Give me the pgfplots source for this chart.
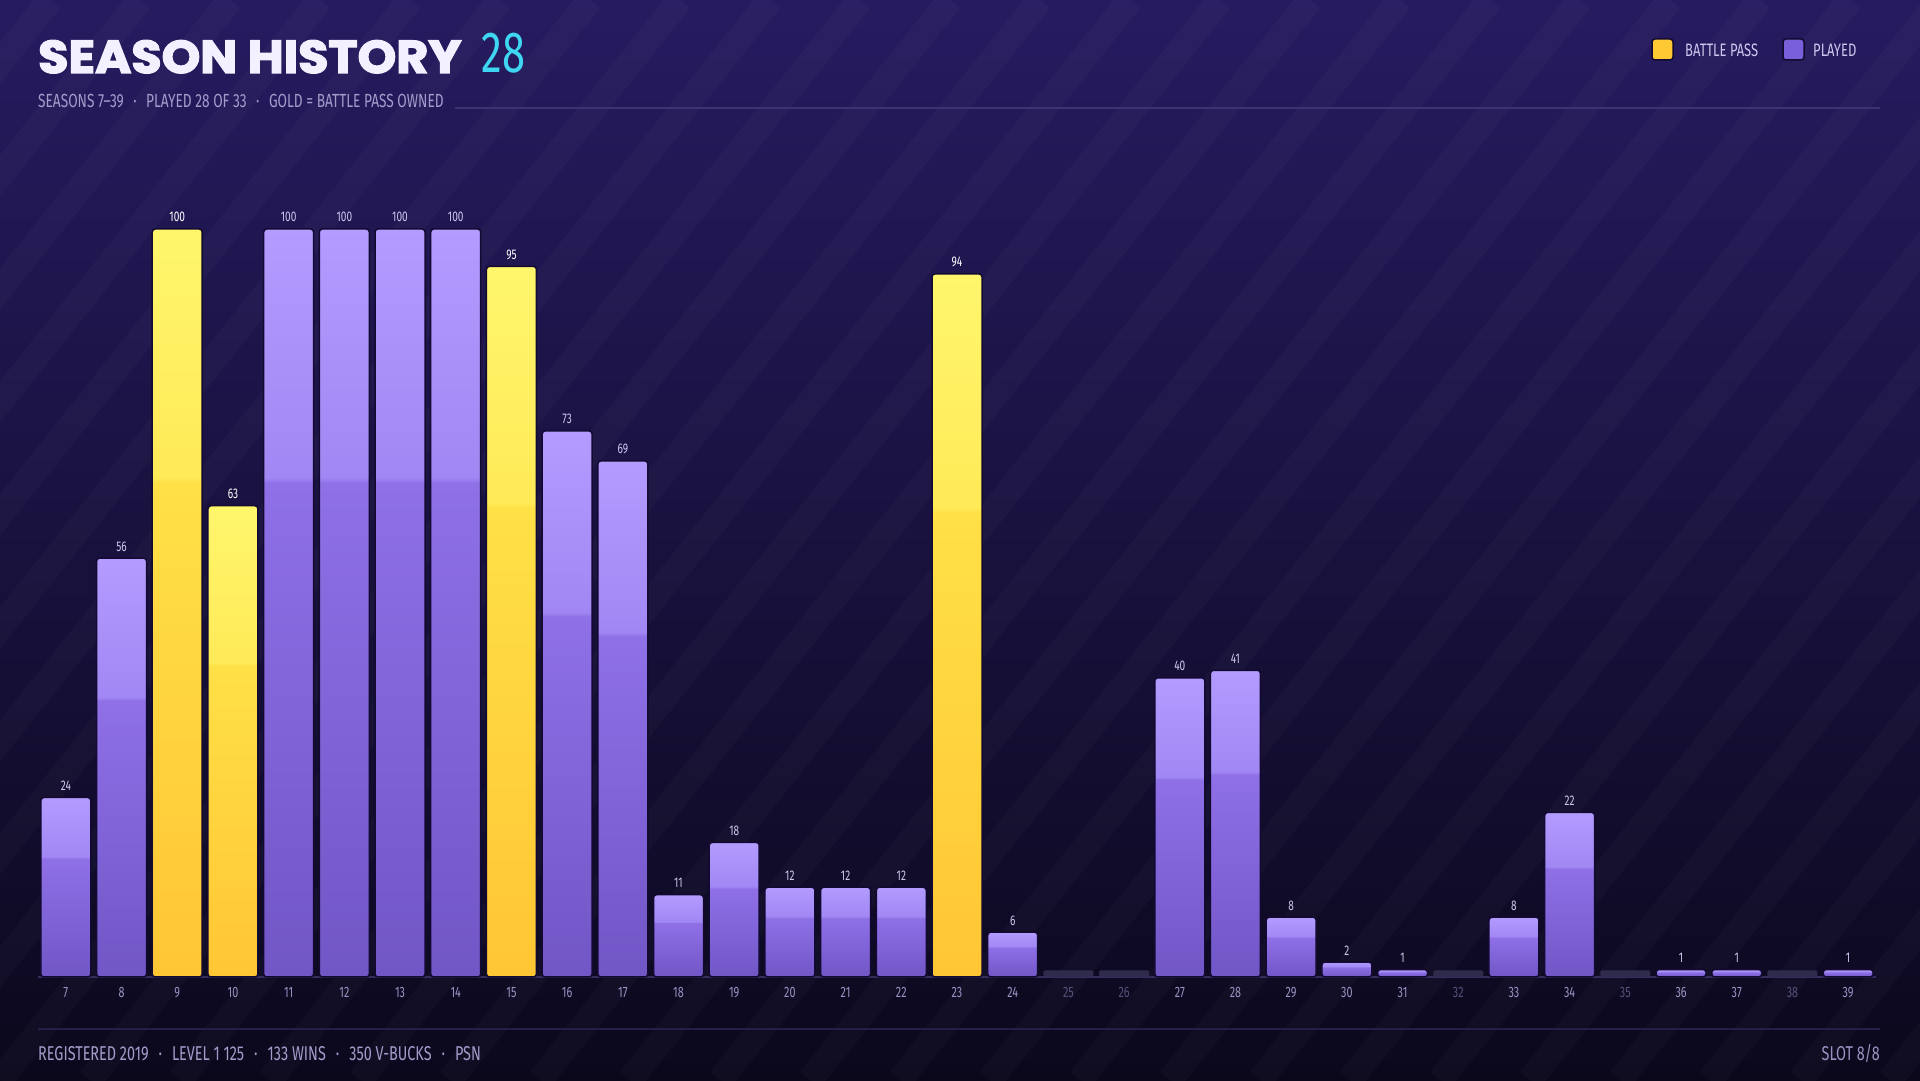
\documentclass[border=0pt]{standalone}
\usepackage{pgfplots}
\pgfplotsset{compat=1.18}
\usepackage{fontspec}
\setmainfont{Fira Sans}
\newfontfamily\cond[FakeStretch=0.72]{Fira Sans}
\newfontfamily\titlefont[FakeStretch=1.07, BoldFeatures={FakeBold=3, FakeStretch=1.07}]{Poppins}
\definecolor{bgtop}{HTML}{261B60}
\definecolor{bgmid}{HTML}{161040}
\definecolor{bgbot}{HTML}{0B081C}
\definecolor{ptop}{HTML}{B39BFF}
\definecolor{pmidb}{HTML}{A187F3}
\definecolor{pmida}{HTML}{8F70E7}
\definecolor{pbot}{HTML}{7156C6}
\definecolor{gtop}{HTML}{FFF66C}
\definecolor{gmidb}{HTML}{FFEA58}
\definecolor{gmida}{HTML}{FFE046}
\definecolor{gbot}{HTML}{FFC633}
\definecolor{barline}{HTML}{120A30}
\definecolor{stub}{HTML}{2F2B4C}
\definecolor{tick}{HTML}{9A93C2}
\definecolor{tickdim}{HTML}{565079}
\definecolor{vallab}{HTML}{CFC7EE}
\definecolor{subtxt}{HTML}{A39CCB}
\definecolor{hline}{HTML}{3B3374}
\definecolor{fline}{HTML}{241E48}
\definecolor{cyan28}{HTML}{3ED6F0}
\definecolor{titlewhite}{HTML}{F3F1FF}
\definecolor{gold}{HTML}{FFC933}
\definecolor{lpurple}{HTML}{7A5FDA}
\definecolor{basel}{HTML}{342D5E}
\pgfdeclareverticalshading{purplebar}{100bp}{color(0bp)=(pbot); color(25bp)=(pbot); color(58bp)=(pmida); color(58.4bp)=(pmidb); color(75bp)=(ptop); color(100bp)=(ptop)}
\pgfdeclareverticalshading{goldbar}{100bp}{color(0bp)=(gbot); color(25bp)=(gbot); color(58bp)=(gmida); color(58.4bp)=(gmidb); color(75bp)=(gtop); color(100bp)=(gtop)}
\pgfplotsset{
  pbar/.style={bar shift=0pt, shade, shading=purplebar, draw=barline, line width=1.5bp, rounded corners=3bp,
    nodes near coords,
    every node near coord/.append style={font=\cond\fontsize{14bp}{16bp}\selectfont, text=vallab, anchor=base, yshift=7bp, inner sep=0pt}},
  gbar/.style={bar shift=0pt, shade, shading=goldbar, draw=barline, line width=1.5bp, rounded corners=3bp,
    nodes near coords,
    every node near coord/.append style={font=\cond\fontsize{14bp}{16bp}\selectfont, text=white, anchor=base, yshift=7bp, inner sep=0pt}},
}
\begin{document}
\begin{tikzpicture}[x=1bp,y=1bp]
\useasboundingbox (0,0) rectangle (1920,1080);
\shade[top color=bgtop, middle color=bgmid, bottom color=bgbot] (0,0) rectangle (1920,1080);
\begin{scope}
\clip (0,0) rectangle (1920,1080);
\foreach \k in {-900,-810,...,1960} \draw[white, opacity=0.022, line width=26] (\k,0) -- (\k+860,1080);
\end{scope}
% header
\node[anchor=base west, inner sep=0, text=titlewhite, font=\titlefont\bfseries\fontsize{46bp}{50bp}\selectfont] (title) at (38,1007) {SEASON HISTORY};
\node[anchor=base west, inner sep=0, text=cyan28, font=\cond\fontsize{58bp}{60bp}\selectfont] at ([xshift=20bp]title.base east) {28};
\node[anchor=base west, inner sep=0, text=subtxt, font=\cond\fontsize{19bp}{22bp}\selectfont] at (38,972) {SEASONS 7–39\enspace·\enspace PLAYED 28 OF 33\enspace·\enspace GOLD = BATTLE PASS OWNED};
\draw[hline, line width=1.2bp] (455,972) -- (1880,972);
% legend
\filldraw[fill=gold, draw=barline, line width=1.5bp, rounded corners=3bp] (1652,1020) rectangle (1673,1041);
\node[anchor=base west, inner sep=0, text=vallab, font=\cond\fontsize{18bp}{20bp}\selectfont] at (1685,1023) {BATTLE PASS};
\filldraw[fill=lpurple, draw=barline, line width=1.5bp, rounded corners=3bp] (1783,1020) rectangle (1804,1041);
\node[anchor=base west, inner sep=0, text=vallab, font=\cond\fontsize{18bp}{20bp}\selectfont] at (1813,1023) {PLAYED};
% footer
\draw[fline, line width=1.5bp] (38,51) -- (1880,51);
\node[anchor=base west, inner sep=0, text=subtxt, font=\cond\fontsize{20bp}{22bp}\selectfont] at (38,20) {REGISTERED 2019\enspace·\enspace LEVEL 1 125\enspace·\enspace 133 WINS\enspace·\enspace 350 V-BUCKS\enspace·\enspace PSN};
\node[anchor=base east, inner sep=0, text=tick, font=\cond\fontsize{20bp}{22bp}\selectfont] at (1880,20) {SLOT 8/8};
\begin{axis}[
  at={(38bp,103bp)}, anchor=south west, scale only axis,
  width=1838bp, height=822.8bp,
  xmin=6.5, xmax=39.5, ymin=0, ymax=110,
  axis y line=none, axis x line*=bottom,
  x axis line style={draw=basel, line width=1.5bp, -},
  major tick length=0pt,
  xtick={7,...,39},
  xticklabels={7,8,9,10,11,12,13,14,15,16,17,18,19,20,21,22,23,24,{\color{tickdim}25},{\color{tickdim}26},27,28,29,30,31,{\color{tickdim}32},33,34,{\color{tickdim}35},36,37,{\color{tickdim}38},39},
  xticklabel style={font=\cond\fontsize{15bp}{18bp}\selectfont, text=tick, yshift=-7bp},
  ybar, bar width=50bp,
  clip=false,
  /pgf/number format/assume math mode=true,
]
\addplot[bar shift=0pt, fill=stub, draw=none, rounded corners=2bp] coordinates {(25,0.9) (26,0.9) (32,0.9) (35,0.9) (38,0.9)};
\addplot[pbar] coordinates {(7,24)};
\addplot[pbar] coordinates {(8,56)};
\addplot[gbar] coordinates {(9,100)};
\addplot[gbar] coordinates {(10,63)};
\addplot[pbar] coordinates {(11,100)};
\addplot[pbar] coordinates {(12,100)};
\addplot[pbar] coordinates {(13,100)};
\addplot[pbar] coordinates {(14,100)};
\addplot[gbar] coordinates {(15,95)};
\addplot[pbar] coordinates {(16,73)};
\addplot[pbar] coordinates {(17,69)};
\addplot[pbar] coordinates {(18,11)};
\addplot[pbar] coordinates {(19,18)};
\addplot[pbar] coordinates {(20,12)};
\addplot[pbar] coordinates {(21,12)};
\addplot[pbar] coordinates {(22,12)};
\addplot[gbar] coordinates {(23,94)};
\addplot[pbar] coordinates {(24,6)};
\addplot[pbar] coordinates {(27,40)};
\addplot[pbar] coordinates {(28,41)};
\addplot[pbar] coordinates {(29,8)};
\addplot[pbar] coordinates {(30,2)};
\addplot[pbar] coordinates {(31,1)};
\addplot[pbar] coordinates {(33,8)};
\addplot[pbar] coordinates {(34,22)};
\addplot[pbar] coordinates {(36,1)};
\addplot[pbar] coordinates {(37,1)};
\addplot[pbar] coordinates {(39,1)};
\end{axis}
\end{tikzpicture}
\end{document}
